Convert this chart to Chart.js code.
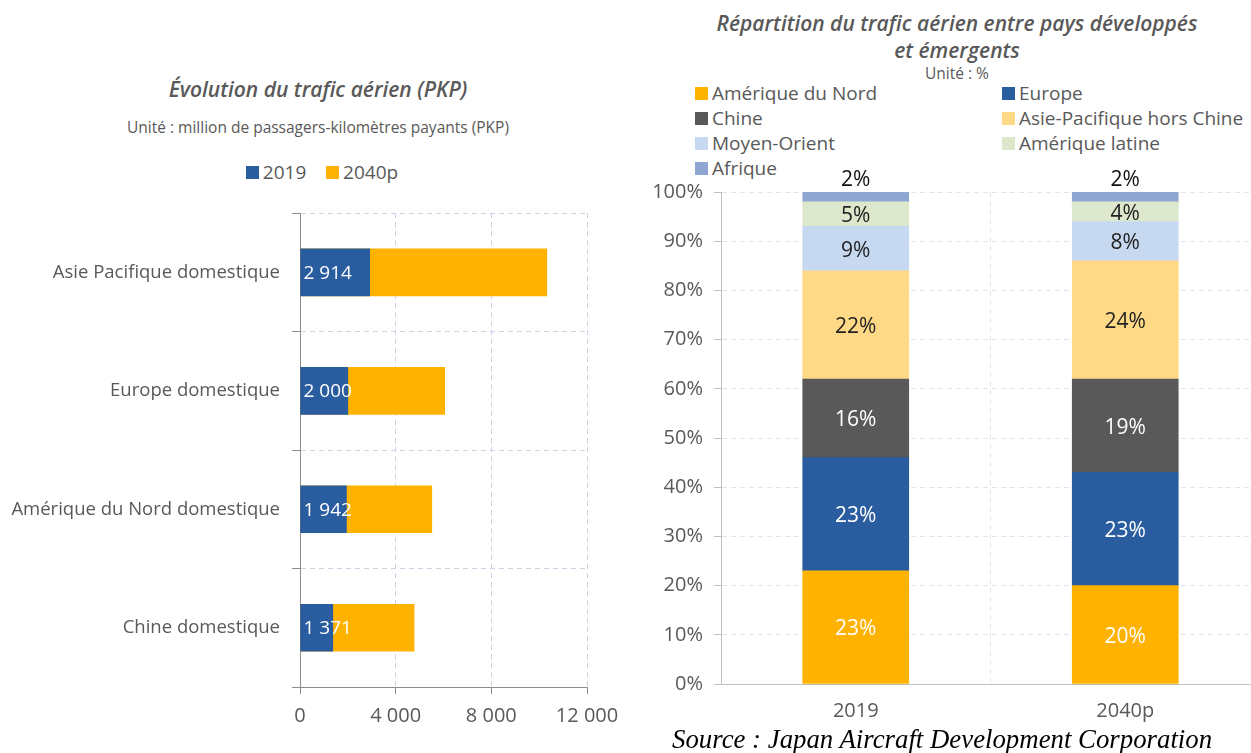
<!DOCTYPE html>
<html>
<head>
<meta charset="utf-8">
<script src="https://cdn.jsdelivr.net/npm/chart.js@4.4.0/dist/chart.umd.min.js"></script>
<style>
  body { margin: 0; width: 1251px; height: 753px; background: #fff; position: relative; overflow: hidden;
         font-family: "Open Sans", sans-serif; color: #595959; }
  .abs { position: absolute; }
  .title { font-style: italic; font-weight: 600; font-size: 21px; text-align: center; line-height: 27px; }
  .unit { font-size: 15.5px; text-align: center; }
  .leg { font-size: 19px; white-space: nowrap; }
  .box { display: inline-block; width: 13px; height: 13px; margin-right: 4px; vertical-align: 0px; }
  #source { left: 672px; top: 724px; font-family: "Liberation Serif", serif; font-style: italic; font-size: 26.8px; color: #000; white-space: nowrap; }
</style>
</head>
<body>
<div class="abs title" style="left:0;top:76px;width:636px">Évolution du trafic aérien (PKP)</div>
<div class="abs unit" style="left:0;top:116px;width:636px">Unité : million de passagers-kilomètres payants (PKP)</div>
<div class="abs leg" id="legLeft" style="left:0;top:159px;width:644px;text-align:center"></div>

<div class="abs title" style="left:663px;top:10px;width:588px">Répartition du trafic aérien entre pays développés<br>et émergents</div>
<div class="abs unit" style="left:663px;top:62px;width:588px">Unité : %</div>
<div id="legRight"></div>

<div class="abs" style="left:0;top:190px;width:620px;height:563px"><canvas id="trafficChart" width="620" height="563"></canvas></div>
<div class="abs" style="left:640px;top:160px;width:620px;height:593px"><canvas id="shareChart" width="620" height="593"></canvas></div>
<div class="abs" id="source">Source : Japan Aircraft Development Corporation</div>

<script>
// --- left chart data (million PKP)
const trafficCategories = ["Asie Pacifique domestique", "Europe domestique", "Amérique du Nord domestique", "Chine domestique"];
const traffic2019 = [2914, 2000, 1942, 1371];
const traffic2040 = [10320, 6050, 5510, 4770];
const trafficTicks = [0, 4000, 8000, 12000];

// --- right chart data (%)
const shareYears = ["2019", "2040p"];
const shareAmeriqueNord = [23, 20];
const shareEurope = [23, 23];
const shareChine = [16, 19];
const shareAsiePacifique = [22, 24];
const shareMoyenOrient = [9, 8];
const shareAmeriqueLatine = [5, 4];
const shareAfrique = [2, 2];

const BLUE = "#2A5CA0", ORANGE = "#FFB300";
const gray = "#595959";

const fmt = (v) => String(v).replace(/\B(?=(\d{3})+(?!\d))/g, " ");

// left legend
document.getElementById("legLeft").innerHTML =
  `<span class="box" style="background:${BLUE}"></span>2019&nbsp;&nbsp;&nbsp;&nbsp;<span class="box" style="background:${ORANGE}"></span>2040p`;

// labels at the start of the 2019 bars
const startLabels = {
  id: "startLabels",
  afterDatasetsDraw(chart) {
    const ctx = chart.ctx;
    const meta = chart.getDatasetMeta(0);
    ctx.save();
    ctx.font = "19px 'Open Sans'";
    ctx.fillStyle = "#fff";
    ctx.textAlign = "left";
    ctx.textBaseline = "middle";
    meta.data.forEach((el, i) => {
      ctx.fillText(fmt(traffic2019[i]), el.base + 3, el.y + 1);
    });
    ctx.restore();
  }
};

new Chart(document.getElementById("trafficChart"), {
  type: "bar",
  data: {
    labels: trafficCategories,
    datasets: [
      { label: "2019", data: traffic2019, backgroundColor: BLUE },
      { label: "2040p", data: traffic2040, backgroundColor: ORANGE }
    ]
  },
  options: {
    indexAxis: "y",
    responsive: false,
    animation: false,
    grouped: false,
    barThickness: 47,
    layout: { padding: { top: 20, right: 33, left: 0, bottom: 0 } },
    plugins: { legend: { display: false }, tooltip: { enabled: false } },
    scales: {
      x: {
        min: trafficTicks[0],
        max: trafficTicks[trafficTicks.length - 1],
        afterBuildTicks: (s) => { s.ticks = trafficTicks.map((v) => ({ value: v })); },
        afterFit: (s) => { s.height = 66; s.paddingRight = 0; s.paddingLeft = 0; },
        ticks: { color: gray, font: { size: 20, family: "Open Sans" }, padding: 10, callback: (v) => fmt(v) },
        grid: { color: "#D6CCE8", tickColor: "#8c8c8c", tickLength: 7, tickBorderDash: [] },
        border: { color: "#8c8c8c", dash: [5, 4] }
      },
      y: {
        afterFit: (s) => { s.width = 300; },
        ticks: { color: gray, font: { size: 18.5, family: "Open Sans" }, padding: 12 },
        grid: { offset: true, color: "#D6CCE8", tickColor: "#8c8c8c", tickLength: 8, tickBorderDash: [] },
        border: { color: "#8c8c8c", dash: [5, 4] }
      }
    }
  },
  plugins: [startLabels]
});

// --- right chart
const shareSeries = [
  { label: "Amérique du Nord", data: shareAmeriqueNord, color: "#FFB300", text: "#fff" },
  { label: "Europe", data: shareEurope, color: "#2A5CA0", text: "#fff" },
  { label: "Chine", data: shareChine, color: "#595959", text: "#fff" },
  { label: "Asie-Pacifique hors Chine", data: shareAsiePacifique, color: "#FFD985", text: "#222" },
  { label: "Moyen-Orient", data: shareMoyenOrient, color: "#C6D9F0", text: "#222" },
  { label: "Amérique latine", data: shareAmeriqueLatine, color: "#DCE7CB", text: "#222" },
  { label: "Afrique", data: shareAfrique, color: "#8FA6D2", text: "#111" }
];

// two-column legend
const legRight = document.getElementById("legRight");
shareSeries.forEach((s, i) => {
  const d = document.createElement("div");
  d.className = "abs leg";
  d.style.left = (i % 2 === 0 ? 695 : 1002) + "px";
  d.style.top = (80 + Math.floor(i / 2) * 25) + "px";
  d.innerHTML = `<span class="box" style="background:${s.color}"></span>${s.label}`;
  legRight.appendChild(d);
});

const segmentLabels = {
  id: "segmentLabels",
  afterDatasetsDraw(chart) {
    const ctx = chart.ctx;
    ctx.save();
    ctx.font = "21px 'Open Sans'";
    ctx.textAlign = "center";
    ctx.textBaseline = "middle";
    chart.data.datasets.forEach((ds, di) => {
      const meta = chart.getDatasetMeta(di);
      meta.data.forEach((el, i) => {
        const txt = ds.data[i] + "%";
        ctx.fillStyle = shareSeries[di].text;
        if (di === shareSeries.length - 1) {
          ctx.fillText(txt, el.x, el.y - 12);
        } else {
          ctx.fillText(txt, el.x, (el.y + el.base) / 2 + 2);
        }
      });
    });
    ctx.restore();
  }
};

new Chart(document.getElementById("shareChart"), {
  type: "bar",
  data: {
    labels: shareYears,
    datasets: shareSeries.map((s) => ({ label: s.label, data: s.data, backgroundColor: s.color, borderWidth: 0 }))
  },
  options: {
    responsive: false,
    animation: false,
    barThickness: 106,
    layout: { padding: { top: 32, right: 0, left: 0, bottom: 0 } },
    plugins: { legend: { display: false }, tooltip: { enabled: false } },
    scales: {
      x: {
        stacked: true,
        afterFit: (s) => { s.height = 69; },
        ticks: { color: gray, font: { size: 20, family: "Open Sans" }, padding: 15 },
        grid: { offset: true, color: "#E6E0F0", drawTicks: false },
        border: { color: "#bfbfbf", dash: [5, 4] }
      },
      y: {
        stacked: true,
        min: 0,
        max: 100,
        afterFit: (s) => { s.width = 81; },
        ticks: { stepSize: 10, color: gray, font: { size: 20, family: "Open Sans" }, padding: 11, callback: (v) => v + "%" },
        grid: { color: "#E6E0F0", tickColor: "#bfbfbf", tickLength: 7, tickBorderDash: [] },
        border: { color: "#bfbfbf", dash: [5, 4] }
      }
    }
  },
  plugins: [segmentLabels]
});
</script>
</body>
</html>
